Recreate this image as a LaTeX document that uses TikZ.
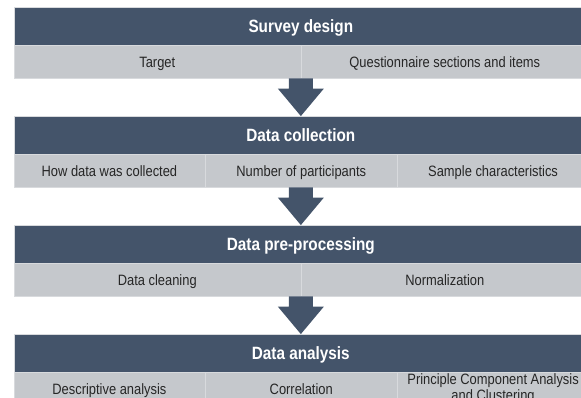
\documentclass[tikz,border=0pt]{standalone}
\usepackage{fontspec}
\setmainfont{Liberation Sans}[FakeStretch=0.86]
\usepackage{xcolor}
\usetikzlibrary{positioning, calc}
\definecolor{slate}{HTML}{44546A}
\definecolor{cellgray}{HTML}{C5C8CC}
\definecolor{rimgray}{HTML}{D8DADD}
\tikzset{
  stage/.style={rectangle, draw=rimgray, fill=slate, text=white,
                minimum width=574.3pt, minimum height=37.5pt, inner sep=0pt,
                text height=12.75pt, text depth=0pt,
                font=\fontsize{17.8}{20}\selectfont\bfseries},
  half/.style={rectangle, draw=rimgray, fill=cellgray, text=black!85,
               minimum width=287.15pt, minimum height=33pt, inner sep=0pt,
               text height=10.7pt, text depth=0pt, align=center,
               font=\fontsize{15}{15.5}\selectfont},
  third/.style={half, minimum width=191.43pt},
  flow/.style={fill=slate}
}
% block arrow from the end of one stage to the top of the next
\newcommand{\flowarrow}[2]{%
  \fill[flow] ($(#1)+(-12pt,0)$) -- ($(#1)+(12pt,0)$) -- ($(#2)+(12pt,27.5pt)$)
    -- ($(#2)+(23pt,27.5pt)$) -- (#2) -- ($(#2)+(-23pt,27.5pt)$)
    -- ($(#2)+(-12pt,27.5pt)$) -- cycle;}

\begin{document}
\begin{tikzpicture}[node distance=0pt]
  \clip (0,0) rectangle (581pt,-398pt);

  % stage 1
  \node[stage] (survey) at (300.85pt,-26.05pt) {Survey design};
  \node[half, below right=0pt and 0pt of survey.south west] (target) {Target};
  \node[half, right=0pt of target] (items) {Questionnaire sections and items};
  \coordinate (surveyend) at (survey.south |- target.south);

  % stage 2
  \node[stage, below=37.7pt of surveyend] (collect) {Data collection};
  \node[third, below right=0pt and 0pt of collect.south west] (how) {How data was collected};
  \node[third, right=0pt of how] (number) {Number of participants};
  \node[third, right=0pt of number] (sample) {Sample characteristics};
  \coordinate (collectend) at (collect.south |- how.south);

  % stage 3
  \node[stage, below=37.7pt of collectend] (prep) {Data pre-processing};
  \node[half, below right=0pt and 0pt of prep.south west] (cleaning) {Data cleaning};
  \node[half, right=0pt of cleaning] (norm) {Normalization};
  \coordinate (prepend) at (prep.south |- cleaning.south);

  % stage 4
  \node[stage, below=37.7pt of prepend] (analysis) {Data analysis};
  \node[third, below right=0pt and 0pt of analysis.south west] (descr) {Descriptive analysis};
  \node[third, right=0pt of descr] (corr) {Correlation};
  \node[third, right=0pt of corr, text height={}, text depth={}] (pca)
    {Principle Component Analysis\\and Clustering};

  \flowarrow{surveyend}{collect.north}
  \flowarrow{collectend}{prep.north}
  \flowarrow{prepend}{analysis.north}
\end{tikzpicture}
\end{document}
